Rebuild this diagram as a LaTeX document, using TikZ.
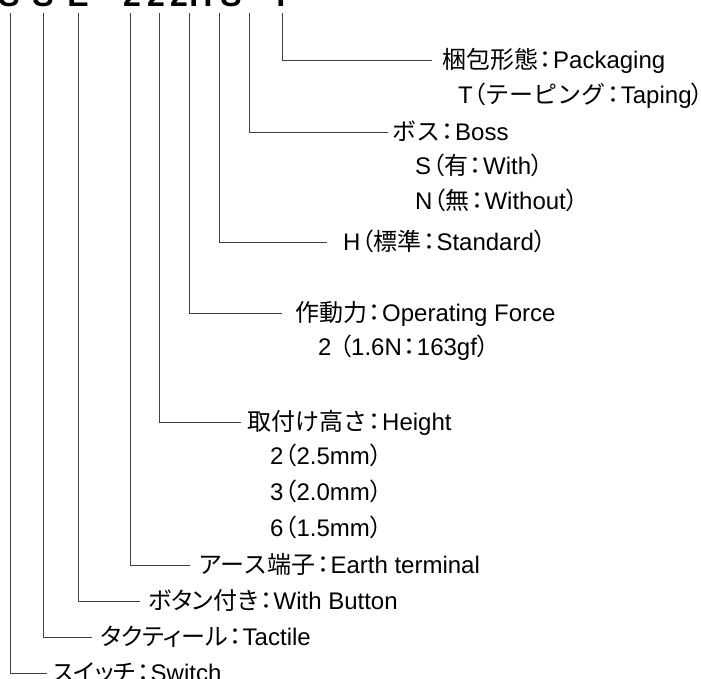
\documentclass[tikz,border=0pt]{standalone}
\usepackage{fontspec}
\setmainfont{Liberation Sans}
\newfontfamily\jp{Noto Sans CJK JP}
\newfontfamily\jpp[RawFeature=+palt]{Noto Sans CJK JP}
\newcommand\jcolon{{\kern1.5pt\jpp：\kern1.5pt}}
\newcommand\jlp{{\kern1pt\jpp （}}
\newcommand\jrp{{\jpp ）}}
\begin{document}
\begin{tikzpicture}[x=1pt,y=-1pt,
  lbl/.style={anchor=base west, inner sep=0pt, font=\fontsize{24}{28}\selectfont},
  codechar/.style={anchor=base, inner sep=0pt, font=\fontsize{32}{36}\selectfont\bfseries},
  conn/.style={draw=black!75, line width=0.9pt}]
\useasboundingbox (0,0) rectangle (701,678);
\clip (0,0) rectangle (701,678);
% cut-off product code at the top
\node[codechar] (c1) at (9,6.5) {S};
\node[codechar] (c2) at (43,6.5) {S};
\node[codechar] (c3) at (78,6) {E};
\node[codechar] (c4) at (132,6) {2};
\node[codechar] (c5) at (156,6) {2};
\node[codechar] (c6) at (179,6) {2};
\node[codechar] (c7) at (201,6) {H};
\node[codechar] (c8) at (231,6.5) {S};
\node[codechar] (c9) at (281,6) {T};
% top ends of the connectors
\foreach \n/\x in {1/10,2/43,3/78,4/130,5/159,6/189,7/219,8/249,9/282}
  \coordinate (t\n) at (\x,13);
% elbow ends
\coordinate (e1) at (47,673);
\coordinate (e2) at (92,637);
\coordinate (e3) at (140,601);
\coordinate (e4) at (190,565);
\coordinate (e5) at (241,422);
\coordinate (e6) at (282,313);
\coordinate (e7) at (327,242);
\coordinate (e8) at (388,132);
\coordinate (e9) at (432,60);
% labels
\node[lbl] (l1) at (52,681.5) {{\jpp スイッチ}\jcolon Switch};
\node[lbl] (l2) at (100,645.5) {{\jpp タクティール}\jcolon Tactile};
\node[lbl] (l3) at (148,609.5) {{\jpp ボタン付き}\jcolon With Button};
\node[lbl] (l4) at (198,573.5) {{\jp アース端子}\jcolon Earth terminal};
\node[lbl] (l5) at (247,430.5) {{\jp 取付け高さ}\jcolon Height};
\node[lbl] (l5a) at (270,464.5) {2\jlp 2.5mm\jrp};
\node[lbl] (l5b) at (270,500.5) {3\jlp 2.0mm\jrp};
\node[lbl] (l5c) at (270,536.5) {6\jlp 1.5mm\jrp};
\node[lbl] (l6) at (295,321.5) {{\jp 作動力}\jcolon Operating Force};
\node[lbl] (l6a) at (318,355.5) {2 \jlp 1.6N\jcolon 163gf\jrp};
\node[lbl] (l7) at (343,250.5) {H\jlp{\jp 標準}\jcolon Standard\jrp};
\node[lbl] (l8) at (392,140.5) {{\jp ボス}\jcolon Boss};
\node[lbl] (l8a) at (415,174.5) {S\jlp{\jp 有}\jcolon With\jrp};
\node[lbl] (l8b) at (415,209.5) {N\jlp{\jp 無}\jcolon Without\jrp};
\node[lbl] (l9) at (442,68.5) {{\jp 梱包形態}\jcolon Packaging};
\node[lbl] (l9a) at (458,103.5) {T\jlp{\jp テーピング}\jcolon Taping\jrp};
% connectors
\foreach \n in {1,...,9}
  \draw[conn] (t\n) |- (e\n);
\end{tikzpicture}
\end{document}
